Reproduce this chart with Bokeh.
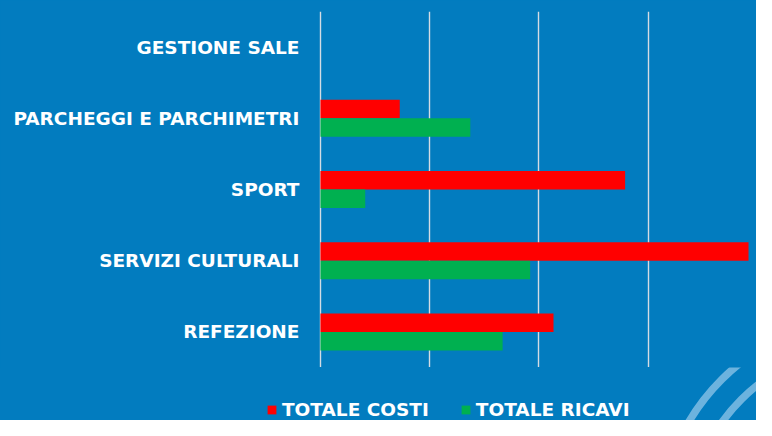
from bokeh.plotting import figure
from bokeh.layouts import column
from bokeh.models import FactorRange, FixedTicker, Legend, LegendItem, ColumnDataSource, Range1d
from bokeh.transform import dodge
from bokeh.embed import file_html
from bokeh.resources import INLINE
import math

categories = ["GESTIONE SALE", "PARCHEGGI E PARCHIMETRI", "SPORT", "SERVIZI CULTURALI", "REFEZIONE"]
costi = [0, 363000, 1395000, 1960000, 1067000]
ricavi = [0, 686000, 205000, 960000, 834000]
grid_ticks = [0, 500000, 1000000, 1500000, 2000000]
series_names = ["TOTALE COSTI", "TOTALE RICAVI"]

BG = "#027CBF"
RED = "#FF0000"
GREEN = "#00B050"
GRID = "#D4DCE4"
ARC = "#6CB3DE"
FONT = "DejaVu Sans"
FSIZE = "18.5px"
W = 756

src = ColumnDataSource(dict(cat=categories, costi=costi, ricavi=ricavi))

# ---- main chart ----
p = figure(width=W, height=367, output_backend="svg", toolbar_location=None,
           y_range=FactorRange(factors=categories[::-1], range_padding=0),
           x_range=Range1d(-9000, 1996500), tools="")
p.frame_align = False
p.min_border_left = 318
p.min_border_right = 0
p.min_border_top = 11
p.min_border_bottom = 0
p.background_fill_color = BG
p.border_fill_color = BG
p.outline_line_color = None

r1 = p.hbar(y=dodge("cat", 0.13, range=p.y_range), right="costi", left=0, height=0.26,
            source=src, fill_color=RED, line_color=None)
r2 = p.hbar(y=dodge("cat", -0.13, range=p.y_range), right="ricavi", left=0, height=0.26,
            source=src, fill_color=GREEN, line_color=None)

p.xaxis.visible = False
p.xgrid.ticker = FixedTicker(ticks=grid_ticks)
p.xgrid.grid_line_color = GRID
p.xgrid.grid_line_width = 1.4
p.ygrid.grid_line_color = None

yax = p.yaxis[0]
yax.axis_line_color = None
yax.major_tick_line_color = None
yax.minor_tick_line_color = None
yax.major_label_text_color = "white"
yax.major_label_text_font = FONT
yax.major_label_text_font_style = "bold"
yax.major_label_text_font_size = FSIZE
yax.major_label_standoff = 13

# ---- legend strip (with the slide's corner decoration) ----
LH = 53
q = figure(width=W, height=LH, output_backend="svg", toolbar_location=None, tools="",
           x_range=Range1d(0, W), y_range=Range1d(0, LH))
q.frame_align = False
q.min_border_left = 0
q.min_border_right = 0
q.min_border_top = 0
q.min_border_bottom = 0
q.background_fill_color = BG
q.border_fill_color = BG
q.outline_line_color = None
q.xaxis.visible = False
q.yaxis.visible = False
q.grid.visible = False

# decorative concentric arcs in the bottom-right corner
q.arc(x=[871, 871], y=[-109, -109], radius=[212, 184],
      start_angle=math.pi / 2, end_angle=math.pi, line_color=ARC, line_width=7.5)

# legend swatches only (placed off-screen, they only feed the legend)
l1 = q.hbar(y=[-100], right=[1], left=0, height=1, fill_color=RED, line_color=None)
l2 = q.hbar(y=[-100], right=[1], left=0, height=1, fill_color=GREEN, line_color=None)

legend = Legend(items=[LegendItem(label=series_names[0], renderers=[l1]),
                       LegendItem(label=series_names[1], renderers=[l2])],
                orientation="horizontal", location=(266, 0),
                background_fill_alpha=0, border_line_alpha=0,
                label_text_color="white", label_text_font=FONT, label_text_font_style="bold",
                label_text_font_size=FSIZE, glyph_width=11, glyph_height=11,
                label_standoff=5, spacing=31, padding=0, margin=0,
                label_height=20)
q.add_layout(legend, "center")

layout = column(p, q, spacing=0, styles={"background-color": BG})
open("out.html", "w").write(file_html(layout, INLINE))
